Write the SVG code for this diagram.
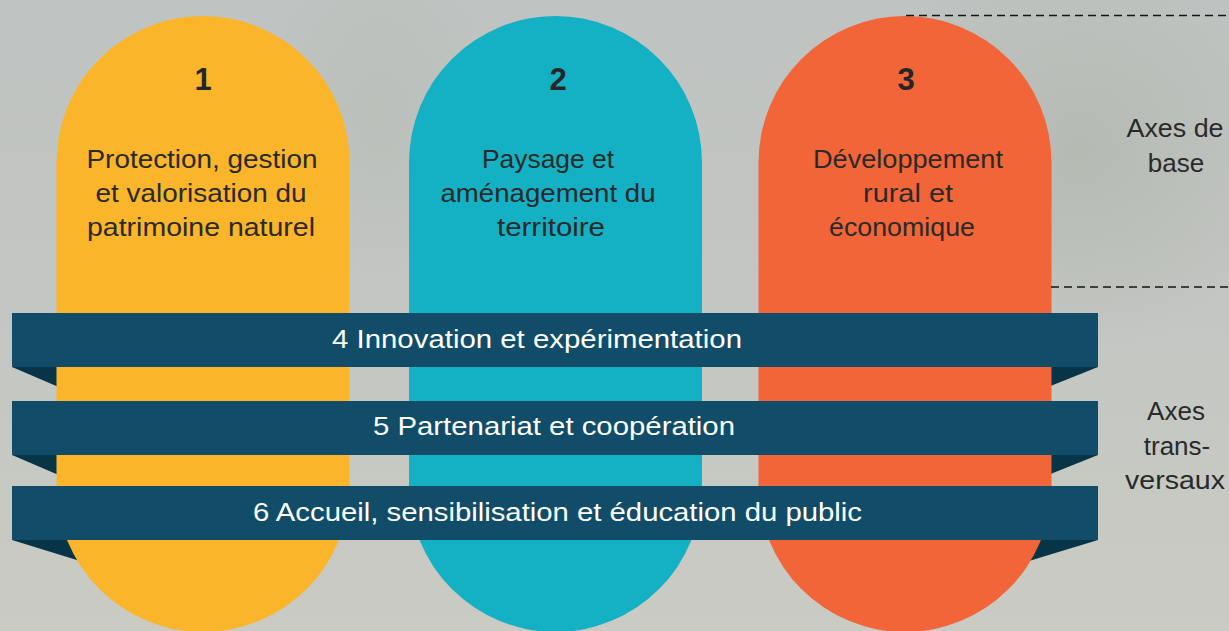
<svg xmlns="http://www.w3.org/2000/svg" width="1229" height="631" viewBox="0 0 1229 631">
  <defs>
    <linearGradient id="bg" x1="0" y1="0" x2="0" y2="1">
      <stop offset="0" stop-color="#bfc3c1"/>
      <stop offset="0.5" stop-color="#c3c6c2"/>
      <stop offset="1" stop-color="#cacbc3"/>
    </linearGradient>
    <radialGradient id="dark" cx="0.5" cy="0.5" r="0.5">
      <stop offset="0" stop-color="#aab0a5" stop-opacity="0.5"/>
      <stop offset="1" stop-color="#aab0a5" stop-opacity="0"/>
    </radialGradient>
  </defs>
  <style>
    .pt { font-family: "Liberation Sans", "DejaVu Sans", sans-serif; font-size: 26px; fill: #2a2a2a; text-anchor: middle; }
    .num { font-family: "Liberation Sans", "DejaVu Sans", sans-serif; font-size: 31px; font-weight: bold; fill: #262626; text-anchor: middle; }
    .bt { font-family: "Liberation Sans", "DejaVu Sans", sans-serif; font-size: 26px; fill: #ffffff; text-anchor: middle; }
    .side { font-family: "Liberation Sans", "DejaVu Sans", sans-serif; font-size: 26px; fill: #2a2a2a; text-anchor: middle; }
    .band { fill: #114d69; }
    .fold { fill: #073447; }
    .dash { stroke: #151515; stroke-width: 1.6; stroke-dasharray: 8 5; fill: none; }
  </style>

  <rect x="0" y="0" width="1229" height="631" fill="url(#bg)"/>
  <ellipse cx="1080" cy="150" rx="220" ry="200" fill="url(#dark)"/>
  <ellipse cx="380" cy="120" rx="120" ry="160" fill="url(#dark)" opacity="0.5"/>

  <g id="folds">
    <polygon class="fold" points="12,367 61,367 61,388"/>
    <polygon class="fold" points="1098,367 1048,367 1048,387"/>
    <polygon class="fold" points="12,455 61,455 61,476"/>
    <polygon class="fold" points="1098,455 1048,455 1048,475"/>
    <polygon class="fold" points="12,540 80,540 80,561"/>
    <polygon class="fold" points="1098,540 1029,540 1029,561"/>
  </g>

  <g id="axe1">
    <rect x="56.5" y="16" width="293" height="616" rx="146.5" fill="#fbb52a"/>
    <text class="num" x="203" y="90">1</text>
    <text class="pt" x="202" y="168" textLength="231" lengthAdjust="spacingAndGlyphs">Protection, gestion</text>
    <text class="pt" x="201" y="202" textLength="211" lengthAdjust="spacingAndGlyphs">et valorisation du</text>
    <text class="pt" x="201" y="236" textLength="228" lengthAdjust="spacingAndGlyphs">patrimoine naturel</text>
  </g>

  <g id="axe2">
    <rect x="409" y="16" width="293" height="616" rx="146.5" fill="#14b0c3"/>
    <text class="num" x="558" y="90">2</text>
    <text class="pt" x="548" y="168" textLength="132" lengthAdjust="spacingAndGlyphs">Paysage et</text>
    <text class="pt" x="548" y="202" textLength="215" lengthAdjust="spacingAndGlyphs">aménagement du</text>
    <text class="pt" x="551" y="236" textLength="108" lengthAdjust="spacingAndGlyphs">territoire</text>
  </g>

  <g id="axe3">
    <rect x="758.5" y="16" width="293" height="616" rx="146.5" fill="#f26538"/>
    <text class="num" x="906" y="90">3</text>
    <text class="pt" x="908" y="168" textLength="190" lengthAdjust="spacingAndGlyphs">Développement</text>
    <text class="pt" x="908" y="202" textLength="90" lengthAdjust="spacingAndGlyphs">rural et</text>
    <text class="pt" x="902" y="236" textLength="146" lengthAdjust="spacingAndGlyphs">économique</text>
  </g>

  <g id="axe4">
    <rect class="band" x="12" y="313" width="1086" height="54"/>
    <text class="bt" x="537" y="348" textLength="410" lengthAdjust="spacingAndGlyphs">4 Innovation et expérimentation</text>
  </g>
  <g id="axe5">
    <rect class="band" x="12" y="401" width="1086" height="54"/>
    <text class="bt" x="554" y="435" textLength="362" lengthAdjust="spacingAndGlyphs">5 Partenariat et coopération</text>
  </g>
  <g id="axe6">
    <rect class="band" x="12" y="486" width="1086" height="54"/>
    <text class="bt" x="557.5" y="521" textLength="609" lengthAdjust="spacingAndGlyphs">6 Accueil, sensibilisation et éducation du public</text>
  </g>

  <g id="connectors">
    <line class="dash" x1="906" y1="15.5" x2="1229" y2="15.5"/>
    <line class="dash" x1="1051" y1="287" x2="1229" y2="287"/>
  </g>

  <g id="axes-de-base">
    <text class="side" x="1175" y="137" textLength="97" lengthAdjust="spacingAndGlyphs">Axes de</text>
    <text class="side" x="1176" y="172">base</text>
  </g>
  <g id="axes-transversaux">
    <text class="side" x="1176" y="420">Axes</text>
    <text class="side" x="1177" y="455">trans-</text>
    <text class="side" x="1175" y="489" textLength="100" lengthAdjust="spacingAndGlyphs">versaux</text>
  </g>
</svg>
